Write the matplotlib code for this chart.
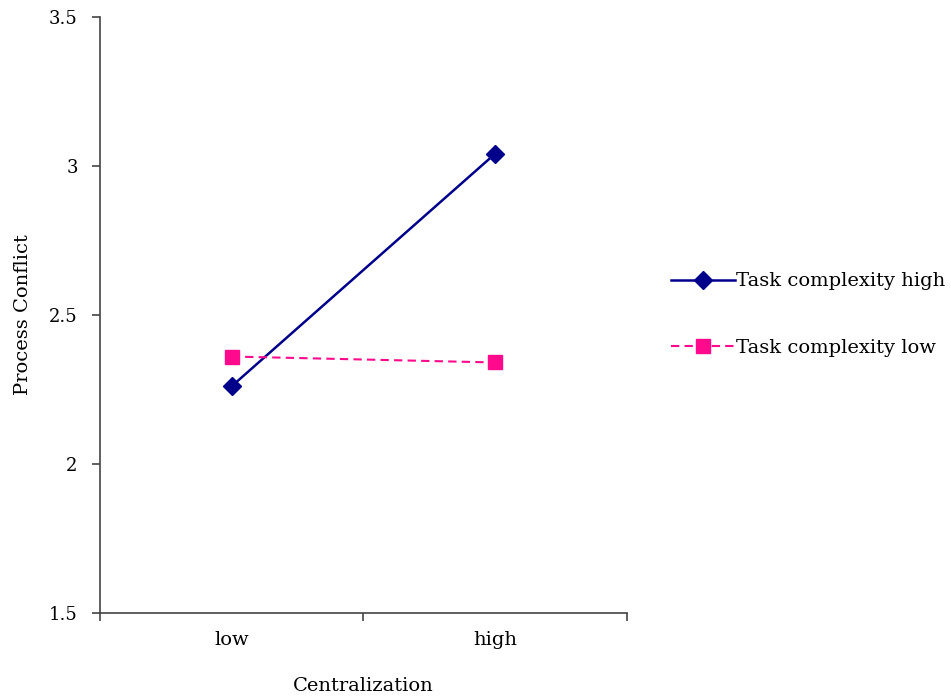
import matplotlib
matplotlib.use("Agg")
import matplotlib.pyplot as plt

categories = ["low", "high"]
complexity_high = [2.26, 3.04]
complexity_low = [2.36, 2.34]
y_ticks = [1.5, 2, 2.5, 3, 3.5]

plt.rcParams['font.family'] = ['DejaVu Serif']

fig = plt.figure(figsize=(9.51, 6.98), dpi=100)
ax = fig.add_axes([0.105, 0.122, 0.554, 0.854])

xpos = [0.5, 1.5]
ax.plot(xpos, complexity_high, color='#00008B', linewidth=1.8, marker='D',
        markersize=9, label='Task complexity high')
ax.plot(xpos, complexity_low, color='#FF0A8C', linewidth=1.5, linestyle='--',
        dashes=(4, 2.5), marker='s', markersize=10, label='Task complexity low')

ax.set_xlim(0, 2)
ax.set_ylim(1.5, 3.5)
ax.set_yticks(y_ticks)
ax.set_yticklabels(['1.5', '2', '2.5', '3', '3.5'])
ax.set_xticks([0, 1, 2])
ax.set_xticklabels([])
ax.set_xticks(xpos, minor=True)
ax.set_xticklabels(categories, minor=True)
ax.tick_params(axis='x', which='minor', length=0, pad=13, labelsize=14)
ax.tick_params(axis='both', which='major', length=6, width=1.2, color='#444444', labelsize=13)
ax.tick_params(axis='y', pad=10)

for s in ['top', 'right']:
    ax.spines[s].set_visible(False)
for s in ['left', 'bottom']:
    ax.spines[s].set_color('#444444')
    ax.spines[s].set_linewidth(1.2)

ax.set_xlabel('Centralization', fontsize=14, labelpad=20)
ax.set_ylabel('Process Conflict', fontsize=14, labelpad=12)

fig.legend(loc='center left', bbox_to_anchor=(0.697, 0.549), frameon=False,
           fontsize=14, handlelength=3.3, handletextpad=0.05, labelspacing=2.5,
           borderaxespad=0)

fig.savefig('out.png', dpi=100)
